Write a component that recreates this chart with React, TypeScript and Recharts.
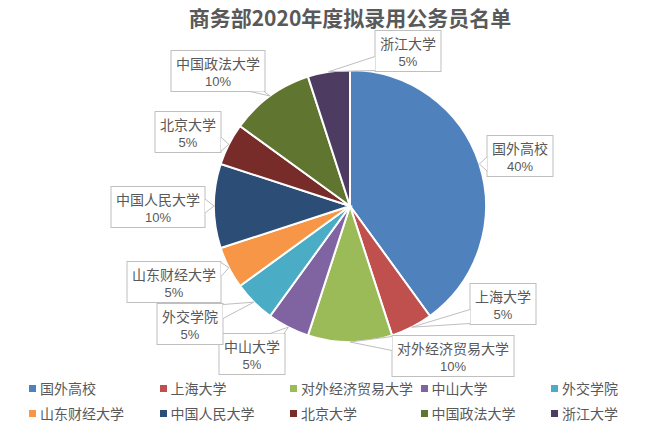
import { PieChart, Pie, Cell, Legend } from 'recharts';

const schools = [
  '国外高校',
  '上海大学',
  '对外经济贸易大学',
  '中山大学',
  '外交学院',
  '山东财经大学',
  '中国人民大学',
  '北京大学',
  '中国政法大学',
  '浙江大学',
];
const shares = [40, 5, 10, 5, 5, 5, 10, 5, 10, 5];
const colors = [
  '#4F81BD',
  '#C0504D',
  '#9BBB59',
  '#8064A2',
  '#4BACC6',
  '#F79646',
  '#2C4D75',
  '#772C2A',
  '#5F7530',
  '#4D3B62',
];

const data = schools.map((name, i) => ({ name, value: shares[i] }));

const FONT = '"Noto Sans CJK SC", "Noto Sans", sans-serif';
const NUM_FONT = '"Liberation Sans", Arial, sans-serif';
const TEXT = '#595959';
const RAD = Math.PI / 180;

// callout box centres, relative to the pie centre
const labelOffsets: [number, number][] = [
  [170, -50],
  [153, 98],
  [103, 150],
  [-98, 148],
  [-160, 118],
  [-176, 76],
  [-192, 1],
  [-162, -74],
  [-132, -135],
  [58, -155],
];

const clamp = (v: number, lo: number, hi: number) => Math.min(Math.max(v, lo), hi);

function CalloutLabel(props: any) {
  const { cx, cy, midAngle, outerRadius, index, name, percent } = props;
  const ax = cx + outerRadius * Math.cos(-midAngle * RAD);
  const ay = cy + outerRadius * Math.sin(-midAngle * RAD);
  const [ox, oy] = labelOffsets[index];
  const mx = cx + ox;
  const my = cy + oy;
  const w = name.length * 14 + 10;
  const h = 41;
  const bx = mx - w / 2;
  const by = my - h / 2;
  const dx = ax - mx;
  const dy = ay - my;
  let b1: number[];
  let b2: number[];
  if (Math.abs(dx) / (w / 2) > Math.abs(dy) / (h / 2)) {
    const sx = dx > 0 ? bx + w : bx;
    const py = clamp(ay, by + 8, by + h - 8);
    b1 = [sx, py - 7];
    b2 = [sx, py + 7];
  } else {
    const sy = dy > 0 ? by + h : by;
    const px = clamp(ax, bx + 8, bx + w - 8);
    b1 = [px - 7, sy];
    b2 = [px + 7, sy];
  }
  return (
    <g>
      <rect x={bx} y={by} width={w} height={h} fill="#fff" stroke="#bfbfbf" strokeWidth={1} />
      <path
        d={`M${b1[0]},${b1[1]}L${ax},${ay}L${b2[0]},${b2[1]}`}
        fill="#fff"
        stroke="#bfbfbf"
        strokeWidth={1}
      />
      <text x={mx} y={by + 18} textAnchor="middle" fontSize={14} fontFamily={FONT} fill={TEXT}>
        {name}
      </text>
      <text x={mx} y={by + 35} textAnchor="middle" fontSize={13} fontFamily={NUM_FONT} fill={TEXT}>
        {`${Math.round(percent * 100)}%`}
      </text>
    </g>
  );
}

const renderLegend = () => (
  <div style={{ position: 'relative', width: 656, height: 50, fontFamily: FONT }}>
    {schools.map((s, i) => {
      const col = i % 5;
      const row = Math.floor(i / 5);
      return (
        <div
          key={s}
          style={{
            position: 'absolute',
            left: 29 + col * 130.5,
            top: row * 25,
            height: 20,
            display: 'flex',
            alignItems: 'center',
            fontSize: 14,
            color: TEXT,
            whiteSpace: 'nowrap',
          }}
        >
          <span style={{ display: 'inline-block', width: 7, height: 7, background: colors[i], marginRight: 4 }} />
          {s}
        </div>
      );
    })}
  </div>
);

export default function App() {
  return (
    <div style={{ position: 'absolute', left: 0, top: 0, width: 656, height: 430, background: '#fff', fontFamily: FONT }}>
      <div
        style={{
          position: 'absolute',
          left: 0,
          top: 6,
          width: 700,
          textAlign: 'center',
          fontSize: 21,
          lineHeight: '22px',
          fontWeight: 'bold',
          color: TEXT,
          zIndex: 2,
        }}
      >
        商务部2020年度拟录用公务员名单
      </div>
      <PieChart width={656} height={430} margin={{ top: 0, right: 0, bottom: 0, left: 0 }}>
        <Pie
          data={data}
          dataKey="value"
          nameKey="name"
          cx={350}
          cy={206}
          outerRadius={136}
          startAngle={90}
          endAngle={-270}
          stroke="#fff"
          strokeWidth={2}
          label={CalloutLabel}
          labelLine={false}
          isAnimationActive={false}
        >
          {data.map((d, i) => (
            <Cell key={d.name} fill={colors[i]} />
          ))}
        </Pie>
        <Legend content={renderLegend} wrapperStyle={{ left: 0, top: 378, width: 656 }} />
      </PieChart>
    </div>
  );
}
